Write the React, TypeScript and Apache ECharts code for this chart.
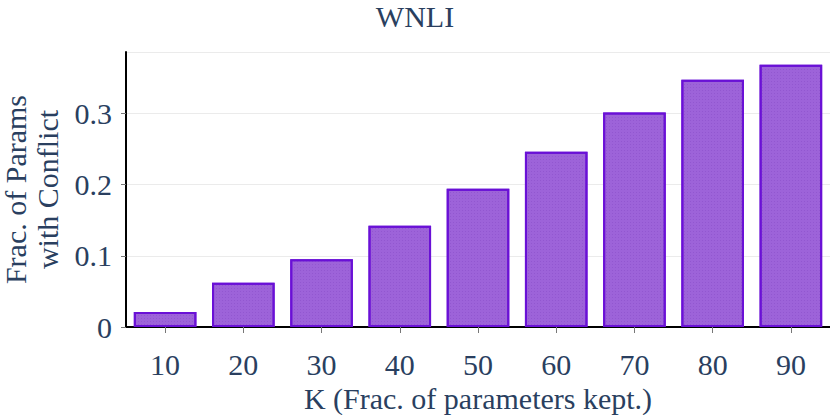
import React, { useEffect, useRef } from "react";
import * as echarts from "echarts";

const categories = ["10", "20", "30", "40", "50", "60", "70", "80", "90"];
const conflictValues = [0.021, 0.062, 0.095, 0.142, 0.194, 0.246, 0.301, 0.347, 0.368];
const yTicks = [0, 0.1, 0.2, 0.3];

const FONT = '"Liberation Serif", "Times New Roman", serif';
const TEXT = "#2a3f5f";

export default function App() {
  const ref = useRef<HTMLDivElement>(null);
  useEffect(() => {
    document.body.style.margin = "0";
    const chart = echarts.init(ref.current!, null, { renderer: "svg" });
    chart.setOption({
      animation: false,
      backgroundColor: "#ffffff",
      textStyle: { fontFamily: FONT, color: TEXT },
      title: {
        text: "WNLI",
        left: "center",
        top: -4,
        textStyle: { fontFamily: FONT, color: TEXT, fontSize: 30, fontWeight: "normal" },
      },
      grid: { left: 126, right: 0, top: 52, bottom: 88, containLabel: false, outerBoundsMode: "none" },
      xAxis: {
        type: "category",
        data: categories,
        boundaryGap: true,
        name: "K (Frac. of parameters kept.)",
        nameLocation: "middle",
        nameGap: 55,
        nameTextStyle: { fontFamily: FONT, color: TEXT, fontSize: 30 },
        axisLine: { show: true, lineStyle: { color: "#000000", width: 2 } },
        axisTick: { show: true, alignWithLabel: true, length: 6, lineStyle: { color: "#777777", width: 1 } },
        axisLabel: { fontFamily: FONT, color: TEXT, fontSize: 30, margin: 22 },
        splitLine: { show: false },
      },
      yAxis: {
        type: "value",
        min: 0,
        max: 0.386,
        interval: 0.1,
        name: "Frac. of Params\nwith Conflict",
        nameLocation: "middle",
        nameRotate: 90,
        nameGap: 58,
        nameTextStyle: { fontFamily: FONT, color: TEXT, fontSize: 30, lineHeight: 32 },
        axisLine: { show: true, lineStyle: { color: "#000000", width: 2 } },
        axisTick: { show: true, length: 5, lineStyle: { color: "#777777", width: 1 } },
        axisLabel: {
          fontFamily: FONT,
          color: TEXT,
          fontSize: 30,
          margin: 14,
          showMaxLabel: false,
          formatter: (v: number) => {
            const t = yTicks.find((x) => Math.abs(x - v) < 1e-9);
            return t === undefined ? "" : String(t);
          },
        },
        splitLine: { show: true, lineStyle: { color: "#ebebeb", width: 1 } },
      },
      series: [
        {
          type: "bar",
          data: conflictValues,
          barCategoryGap: "20%",
          itemStyle: {
            color: "#9d63d9",
            borderColor: "#6a10d6",
            borderWidth: 2,
            decal: {
              symbol: "rect",
              symbolSize: 1,
              color: "rgba(110, 50, 180, 0.25)",
              dashArrayX: [1, 2],
              dashArrayY: [1, 2],
              rotation: 0,
            },
          },
        },
      ],
    });
    return () => chart.dispose();
  }, []);
  return <div ref={ref} style={{ width: 830, height: 415 }} />;
}
